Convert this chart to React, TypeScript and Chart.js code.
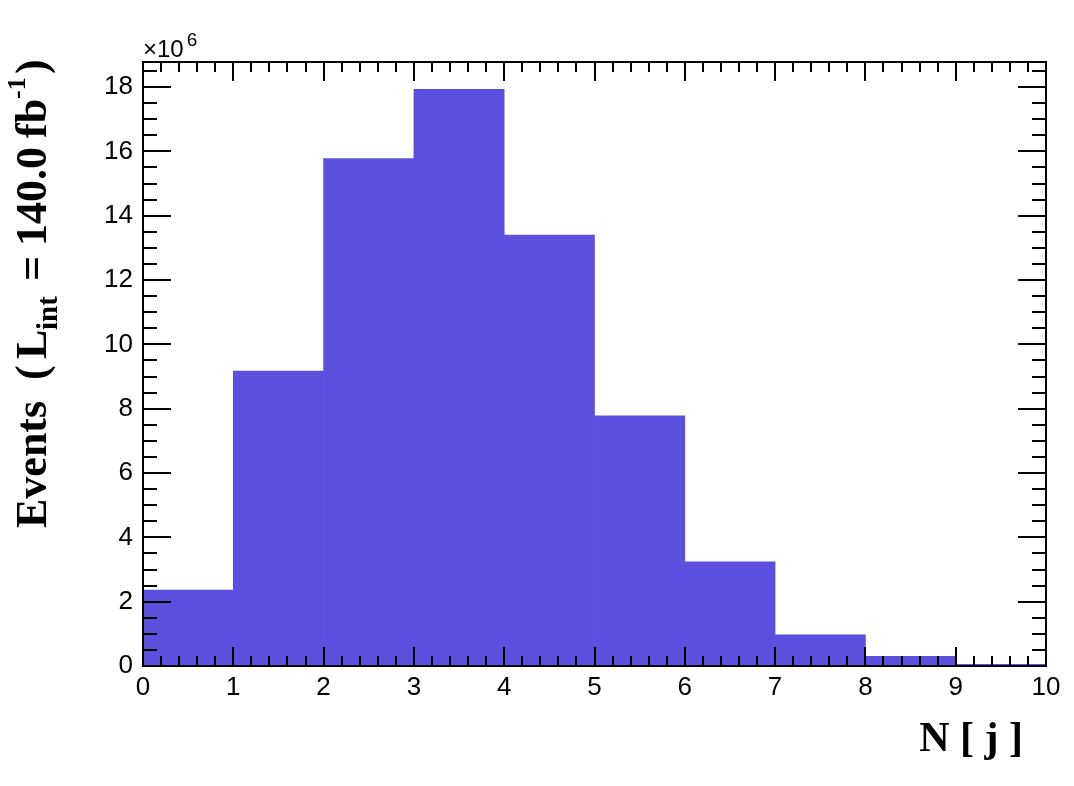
import React, { useEffect, useRef } from "react";
import { Chart, registerables } from "chart.js";

Chart.register(...registerables);

// Bin edges 0..10, one bin per jet multiplicity
const binCenters = [0.5, 1.5, 2.5, 3.5, 4.5, 5.5, 6.5, 7.5, 8.5, 9.5];
// Events in units of 10^6
const eventValues = [2.36, 9.17, 15.78, 17.93, 13.4, 7.78, 3.24, 0.97, 0.3, 0.05];
const xTickLabels = ["0", "1", "2", "3", "4", "5", "6", "7", "8", "9", "10"];
const yTickLabels = ["0", "2", "4", "6", "8", "10", "12", "14", "16", "18"];
const yMax = 18.78;

const BAR_COLOR = "#5d4fde";
const SANS = "'Liberation Sans', Arial, Helvetica, sans-serif";
const SERIF = "'Liberation Serif', 'Times New Roman', serif";

// text pieces of the y-axis title: text, font size, baseline shift, start position along the axis (px from page top)
type Piece = { text: string; size: number; dy: number; at: number };
const yTitlePieces: Piece[] = [
  { text: "Events", size: 44, dy: 0, at: 528 },
  { text: "(", size: 44, dy: 0, at: 380 },
  { text: "L", size: 44, dy: 0, at: 359 },
  { text: "int", size: 29, dy: 11, at: 330 },
  { text: "=", size: 44, dy: 0, at: 281 },
  { text: "140.0", size: 44, dy: 0, at: 246 },
  { text: "fb", size: 44, dy: 0, at: 138 },
  { text: "-1", size: 26, dy: -21, at: 99 },
  { text: ")", size: 44, dy: 0, at: 74 },
];

const rootStylePlugin = {
  id: "rootStyle",
  afterDatasetsDraw(chart: any) {
    const ctx: CanvasRenderingContext2D = chart.ctx;
    const { left, right, top, bottom } = chart.chartArea;
    const xs = chart.scales.x;
    const ys = chart.scales.y;
    ctx.save();
    ctx.strokeStyle = "#000";
    ctx.lineWidth = 2;
    ctx.beginPath();
    // x ticks (bottom & top), major every 1, minor every 0.2
    for (let i = 0; i <= 50; i++) {
      const v = i * 0.2;
      const px = Math.round(xs.getPixelForValue(v));
      const major = i % 5 === 0;
      const len = major ? 19 : 10;
      ctx.moveTo(px, bottom);
      ctx.lineTo(px, bottom - len);
      ctx.moveTo(px, top);
      ctx.lineTo(px, top + len);
    }
    // y ticks (left & right), major every 2, minor every 0.5
    for (let i = 0; i * 0.5 <= yMax; i++) {
      const v = i * 0.5;
      const py = Math.round(ys.getPixelForValue(v));
      const major = i % 4 === 0;
      const len = major ? 28 : 14;
      ctx.moveTo(left, py);
      ctx.lineTo(left + len, py);
      ctx.moveTo(right, py);
      ctx.lineTo(right - len, py);
    }
    ctx.stroke();
    ctx.strokeRect(left, top, right - left, bottom - top);
    ctx.restore();
  },
  afterDraw(chart: any) {
    const ctx: CanvasRenderingContext2D = chart.ctx;
    const { left, top, bottom, right } = chart.chartArea;
    ctx.save();
    ctx.fillStyle = "#000";
    ctx.textAlign = "left";
    ctx.textBaseline = "alphabetic";
    // exponent label
    ctx.font = `24px ${SANS}`;
    ctx.fillText("\u00d710", left, top - 5);
    const w = ctx.measureText("\u00d710").width;
    ctx.font = `19px ${SANS}`;
    ctx.fillText("6", left + w + 3, top - 16);

    // y title (rotated)
    ctx.save();
    ctx.translate(46, 0);
    ctx.rotate(-Math.PI / 2);
    for (const p of yTitlePieces) {
      ctx.font = `bold ${p.size}px ${SERIF}`;
      ctx.fillText(p.text, -p.at, p.dy);
    }
    ctx.restore();

    // x title
    ctx.font = `bold 42px ${SERIF}`;
    ctx.textAlign = "right";
    ctx.fillText("N [ j ]", right - 23, bottom + 85);
    ctx.restore();
  },
};

export default function App() {
  const ref = useRef<HTMLCanvasElement | null>(null);
  useEffect(() => {
    document.body.style.margin = "0";
    const canvas = ref.current;
    if (!canvas) return;
    const chart = new Chart(canvas, {
      type: "bar",
      data: {
        datasets: [
          {
            data: binCenters.map((c, i) => ({ x: c, y: eventValues[i] })),
            backgroundColor: BAR_COLOR,
            borderWidth: 0,
            barPercentage: 1,
            categoryPercentage: 1,
          } as any,
        ],
      },
      options: {
        animation: false,
        responsive: false,
        maintainAspectRatio: false,
        layout: { padding: { top: 62, right: 28, left: 0, bottom: 0 } },
        plugins: { legend: { display: false }, tooltip: { enabled: false } },
        scales: {
          x: {
            type: "linear",
            offset: false,
            min: 0,
            max: 10,
            grid: { display: false, drawTicks: false, offset: false },
            border: { display: false },
            ticks: {
              stepSize: 1,
              padding: 6,
              color: "#000",
              font: { family: SANS, size: 26 },
              maxRotation: 0,
              autoSkip: false,
              callback: (v: any) => {
                const i = Math.round(Number(v));
                return xTickLabels[i] ?? "";
              },
            },
            afterFit: (s: any) => {
              s.height = 120;
            },
          },
          y: {
            min: 0,
            max: yMax,
            grid: { display: false, drawTicks: false },
            border: { display: false },
            ticks: {
              stepSize: 2,
              includeBounds: false,
              padding: 10,
              color: "#000",
              font: { family: SANS, size: 26 },
              callback: (v: any) => {
                const i = Math.round(Number(v) / 2);
                return yTickLabels[i] ?? "";
              },
            },
            afterFit: (s: any) => {
              s.width = 143;
            },
          },
        },
      },
      plugins: [rootStylePlugin],
    });
    return () => chart.destroy();
  }, []);
  return <canvas ref={ref} width={1074} height={786} style={{ display: "block", width: 1074, height: 786 }} />;
}
